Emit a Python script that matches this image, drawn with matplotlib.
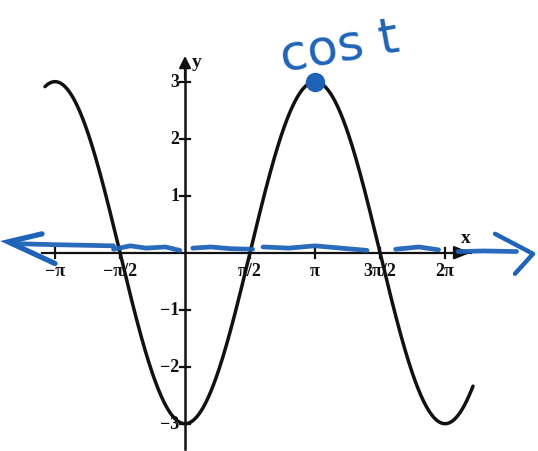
import numpy as np
import matplotlib
matplotlib.use("Agg")
import matplotlib.pyplot as plt

# y = -3 cos(x), drawn from about -1.08*pi to 2.22*pi
amp = 3
x_start = -1.077 * np.pi
x_end = 2.215 * np.pi

x_ticks = [-np.pi, -np.pi / 2, np.pi / 2, np.pi, 3 * np.pi / 2, 2 * np.pi]
x_labels = ["\u2212\u03c0", "\u2212\u03c0/2", "\u03c0/2", "\u03c0", "3\u03c0/2", "2\u03c0"]
y_ticks = [3, 2, 1, -1, -2, -3]
y_labels = ["3", "2", "1", "\u22121", "\u22122", "\u22123"]

peak = (np.pi, 3)

INK = "#111111"
PEN = "#1f63b8"
serif = "Liberation Serif"

fig = plt.figure(figsize=(5.38, 4.52), dpi=100)
ax = fig.add_axes([0, 0, 1, 1])
ax.set_xlim(-1.423 * np.pi, 2.715 * np.pi)
ax.set_ylim(-3.479, 4.45)
ax.axis("off")

# axes drawn by hand
ax.plot([-1.1 * np.pi, 2.2 * np.pi], [0, 0], color=INK, lw=1.6, zorder=2)
ax.annotate("", xy=(2.22 * np.pi, 0), xytext=(2.1 * np.pi, 0),
            arrowprops=dict(arrowstyle="-|>,head_length=1.0,head_width=0.4",
                            color=INK, lw=1.6), zorder=3)
ax.plot([0, 0], [-3.45, 3.3], color=INK, lw=1.8, zorder=2)
ax.annotate("", xy=(0, 3.5), xytext=(0, 3.0),
            arrowprops=dict(arrowstyle="-|>,head_length=0.7,head_width=0.35",
                            color=INK, lw=1.6), zorder=3)

for t, lab in zip(x_ticks, x_labels):
    ax.plot([t, t], [-0.09, 0.09], color=INK, lw=1.6, zorder=2)
    ax.text(t, -0.17, lab, ha="center", va="top", fontsize=13,
            family=serif, fontweight="bold", color=INK)
for v, lab in zip(y_ticks, y_labels):
    ax.plot([-0.035 * np.pi, 0.035 * np.pi], [v, v], color=INK, lw=1.6, zorder=2)
    ax.text(-0.045 * np.pi, v, lab, ha="right", va="center", fontsize=13,
            family=serif, fontweight="bold", color=INK)

ax.text(2.16 * np.pi, 0.12, "x", ha="center", va="bottom", fontsize=14,
        family=serif, fontweight="bold", color=INK)
ax.text(0.05 * np.pi, 3.35, "y", ha="left", va="center", fontsize=14,
        family=serif, fontweight="bold", color=INK)

# the curve
xs = np.linspace(x_start, x_end, 600)
ax.plot(xs, -amp * np.cos(xs), color=INK, lw=2.5, solid_capstyle="round", zorder=4)

# blue pen: wobbly axis with open arrowheads at both ends
pen_runs = [
    ([-1.33, -1.0, -0.55], [0.16, 0.14, 0.12]),
    ([-0.55, -0.42, -0.3, -0.15, -0.04], [0.06, 0.12, 0.08, 0.10, 0.04]),
    ([0.06, 0.2, 0.35, 0.52], [0.08, 0.10, 0.07, 0.06]),
    ([0.6, 0.8, 1.0, 1.2, 1.4], [0.10, 0.08, 0.12, 0.08, 0.04]),
    ([1.62, 1.8, 1.95], [0.06, 0.10, 0.05]),
    ([2.1, 2.3, 2.55], [0.02, 0.03, 0.02]),
]
for px, py in pen_runs:
    ax.plot(np.array(px) * np.pi, py, color=PEN, lw=3.4, alpha=0.95,
            solid_capstyle="round", zorder=5)
ax.plot(np.array([-1.1, -1.36, -1.0]) * np.pi, [0.33, 0.19, -0.19],
        color=PEN, lw=3.8, solid_capstyle="round", solid_joinstyle="miter", zorder=5)
ax.plot(np.array([2.385, 2.677, 2.538]) * np.pi, [0.33, -0.02, -0.37],
        color=PEN, lw=3.2, solid_capstyle="round", zorder=5)

ax.plot(*peak, "o", color=PEN, markersize=13, zorder=6)
ax.text(1.19 * np.pi, 3.62, "cos t", ha="center", va="center", fontsize=36,
        family="DejaVu Sans Condensed", color=PEN, rotation=10, zorder=6)

fig.savefig("out.png", dpi=100)
